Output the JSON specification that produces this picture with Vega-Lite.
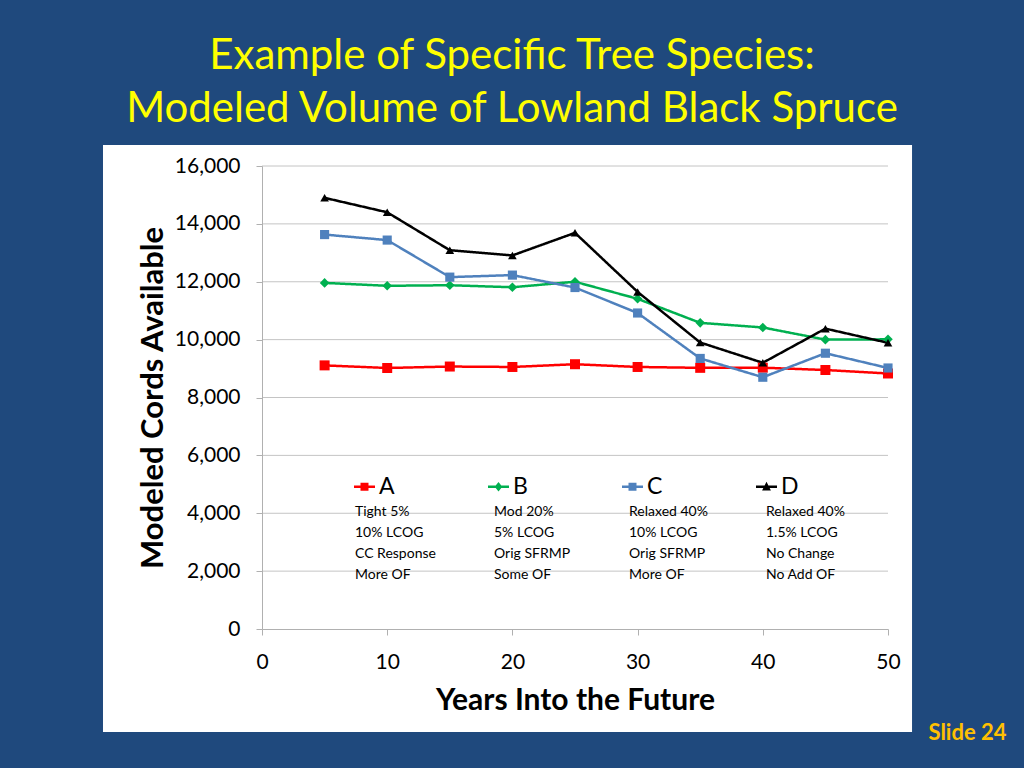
{
  "$schema": "https://vega.github.io/schema/vega-lite/v6.json",
  "width": 626,
  "height": 463,
  "autosize": {"type": "none"},
  "padding": {"left": 262, "top": 166, "right": 136, "bottom": 139},
  "background": "#1F497D",
  "config": {
    "font": "Lato",
    "view": {"stroke": null},
    "style": {"guide-label": {"lineHeight": 20.7}},
    "axis": {
      "grid": false,
      "labelFont": "Lato",
      "labelFontSize": 21,
      "labelColor": "#000000",
      "labelFlush": false,
      "titleFont": "Lato",
      "titleFontWeight": "bold",
      "titleColor": "#000000",
      "domainColor": "#b0b0b0",
      "tickColor": "#b0b0b0",
      "tickSize": 6
    }
  },
  "title": {
    "text": ["Example of Specific Tree Species:", "Modeled Volume of Lowland Black Spruce"],
    "color": "#FFFF00",
    "font": "Lato",
    "fontSize": 42,
    "fontWeight": "normal",
    "anchor": "middle",
    "frame": "group",
    "dx": -63,
    "offset": -28,
    "baseline": "bottom",
    "lineHeight": 53
  },
  "datasets": {
    "volumes": [
      {"series": "A", "year": 5, "cords": 9110},
      {"series": "A", "year": 10, "cords": 9020},
      {"series": "A", "year": 15, "cords": 9070},
      {"series": "A", "year": 20, "cords": 9055},
      {"series": "A", "year": 25, "cords": 9150},
      {"series": "A", "year": 30, "cords": 9055},
      {"series": "A", "year": 35, "cords": 9025},
      {"series": "A", "year": 40, "cords": 9030},
      {"series": "A", "year": 45, "cords": 8950},
      {"series": "A", "year": 50, "cords": 8830},
      {"series": "B", "year": 5, "cords": 11960},
      {"series": "B", "year": 10, "cords": 11860},
      {"series": "B", "year": 15, "cords": 11880},
      {"series": "B", "year": 20, "cords": 11810},
      {"series": "B", "year": 25, "cords": 12000},
      {"series": "B", "year": 30, "cords": 11410},
      {"series": "B", "year": 35, "cords": 10580},
      {"series": "B", "year": 40, "cords": 10420},
      {"series": "B", "year": 45, "cords": 10000},
      {"series": "B", "year": 50, "cords": 10010},
      {"series": "C", "year": 5, "cords": 13630},
      {"series": "C", "year": 10, "cords": 13440},
      {"series": "C", "year": 15, "cords": 12160},
      {"series": "C", "year": 20, "cords": 12230},
      {"series": "C", "year": 25, "cords": 11800},
      {"series": "C", "year": 30, "cords": 10920},
      {"series": "C", "year": 35, "cords": 9350},
      {"series": "C", "year": 40, "cords": 8700},
      {"series": "C", "year": 45, "cords": 9530},
      {"series": "C", "year": 50, "cords": 9020},
      {"series": "D", "year": 5, "cords": 14900},
      {"series": "D", "year": 10, "cords": 14400},
      {"series": "D", "year": 15, "cords": 13090},
      {"series": "D", "year": 20, "cords": 12910},
      {"series": "D", "year": 25, "cords": 13690},
      {"series": "D", "year": 30, "cords": 11650},
      {"series": "D", "year": 35, "cords": 9900},
      {"series": "D", "year": 40, "cords": 9200},
      {"series": "D", "year": 45, "cords": 10380},
      {"series": "D", "year": 50, "cords": 9890}
    ],
    "scenarios": [
      {"series": "A", "desc": "A|Tight 5%|10% LCOG|CC Response|More OF"},
      {"series": "B", "desc": "B|Mod 20%|5% LCOG|Orig SFRMP|Some OF"},
      {"series": "C", "desc": "C|Relaxed 40%|10% LCOG|Orig SFRMP|More OF"},
      {"series": "D", "desc": "D|Relaxed 40%|1.5% LCOG|No Change|No Add OF"}
    ],
    "gridlines": [
      {"g": 2000}, {"g": 4000}, {"g": 6000}, {"g": 8000},
      {"g": 10000}, {"g": 12000}, {"g": 14000}, {"g": 16000}
    ],
    "footer": [{"label": "Slide 24"}]
  },
  "layer": [
    {
      "data": {"values": [{}]},
      "mark": {"type": "rect", "fill": "#FFFFFF"},
      "encoding": {
        "x": {"datum": -12.7, "type": "quantitative", "scale": {"domain": [0, 50], "nice": false, "zero": false}},
        "x2": {"datum": 51.92},
        "y": {"datum": -3559, "type": "quantitative", "scale": {"domain": [0, 16000], "nice": false, "zero": false}},
        "y2": {"datum": 16724}
      }
    },
    {
      "data": {"name": "gridlines"},
      "mark": {"type": "rule", "color": "#c4c4c4", "strokeWidth": 1},
      "encoding": {
        "y": {"field": "g", "type": "quantitative"},
        "x": {"datum": 0, "type": "quantitative"},
        "x2": {"datum": 50}
      }
    },
    {
      "data": {"name": "volumes"},
      "transform": [
        {"lookup": "series", "from": {"data": {"name": "scenarios"}, "key": "series", "fields": ["desc"]}}
      ],
      "mark": {"type": "line", "strokeWidth": 2.5},
      "encoding": {
        "x": {
          "field": "year", "type": "quantitative",
          "scale": {"domain": [0, 50], "nice": false, "zero": false},
          "axis": {"zindex": 1, "values": [0, 10, 20, 30, 40, 50], "title": "Years Into the Future", "titleFontSize": 30, "labelPadding": 16, "titlePadding": 13}
        },
        "y": {
          "field": "cords", "type": "quantitative",
          "scale": {"domain": [0, 16000], "nice": false, "zero": false},
          "axis": {"zindex": 1, "values": [0, 2000, 4000, 6000, 8000, 10000, 12000, 14000, 16000], "labelExpr": "format(datum.value, ',')", "title": "Modeled Cords Available", "titleFontSize": 31, "labelPadding": 16, "titlePadding": 5}
        },
        "color": {
          "field": "series", "type": "nominal",
          "scale": {"domain": ["A", "B", "C", "D"], "range": ["#FF0000", "#00B050", "#4F81BD", "#000000"]},
          "legend": {
            "orient": "none",
            "legendX": 91,
            "legendY": 309,
            "direction": "horizontal",
            "columns": 4,
            "title": null,
            "padding": 0,
            "labelFont": "Lato",
            "labelFontSize": 23,
            "labelColor": "#000000",
            "labelOffset": 3,
            "symbolSize": 441,
            "symbolStrokeWidth": 0,
            "symbolType": {"expr": "datum.value === 'A' ? 'M-1,-0.12H1V0.12H-1ZM-0.38,-0.38H0.38V0.38H-0.38Z' : datum.value === 'B' ? 'M-1,-0.12H1V0.12H-1ZM0,-0.45L0.36,0L0,0.45L-0.36,0Z' : datum.value === 'C' ? 'M-1,-0.12H1V0.12H-1ZM-0.38,-0.38H0.38V0.38H-0.38Z' : 'M-1,-0.12H1V0.12H-1ZM0,-0.47L0.42,0.35L-0.42,0.35Z'"},
            "symbolFillColor": {"expr": "scale('color', datum.value)"},
            "gridAlign": "all",
            "columnPadding": 90
          }
        },
        "strokeDash": {
          "field": "desc", "type": "nominal",
          "scale": {"range": [[1, 0], [1, 0], [1, 0], [1, 0]]},
          "legend": {
            "orient": "none",
            "legendX": 79,
            "legendY": 332,
            "direction": "horizontal",
            "columns": 4,
            "title": null,
            "padding": 0,
            "labelExpr": "slice(split(datum.label, '|'), 1)",
            "labelFont": "Lato",
            "labelFontSize": 14,
            "labelColor": "#000000",
            "labelBaseline": "top",
            "labelOffset": 0,
            "labelLimit": 300,
            "symbolSize": 0,
            "symbolOpacity": 0,
            "symbolStrokeWidth": 0,
            "gridAlign": "each",
            "columnPadding": 44
          }
        }
      }
    },
    {
      "data": {"name": "volumes"},
      "mark": {"type": "point", "filled": true, "opacity": 1},
      "encoding": {
        "x": {"field": "year", "type": "quantitative"},
        "y": {"field": "cords", "type": "quantitative"},
        "color": {"field": "series", "type": "nominal", "legend": null},
        "shape": {
          "field": "series", "type": "nominal",
          "scale": {"range": ["square", "diamond", "square", "triangle-up"]},
          "legend": null
        },
        "size": {
          "field": "series", "type": "nominal",
          "scale": {"range": [100, 75, 100, 115]},
          "legend": null
        }
      }
    },
    {
      "data": {"name": "footer"},
      "mark": {"type": "text", "font": "Lato", "fontSize": 22, "fontWeight": "bold", "color": "#FFC000", "align": "center", "baseline": "alphabetic"},
      "encoding": {
        "text": {"field": "label"},
        "x": {"datum": 56.35, "type": "quantitative"},
        "y": {"datum": -3836, "type": "quantitative"}
      }
    }
  ]
}
